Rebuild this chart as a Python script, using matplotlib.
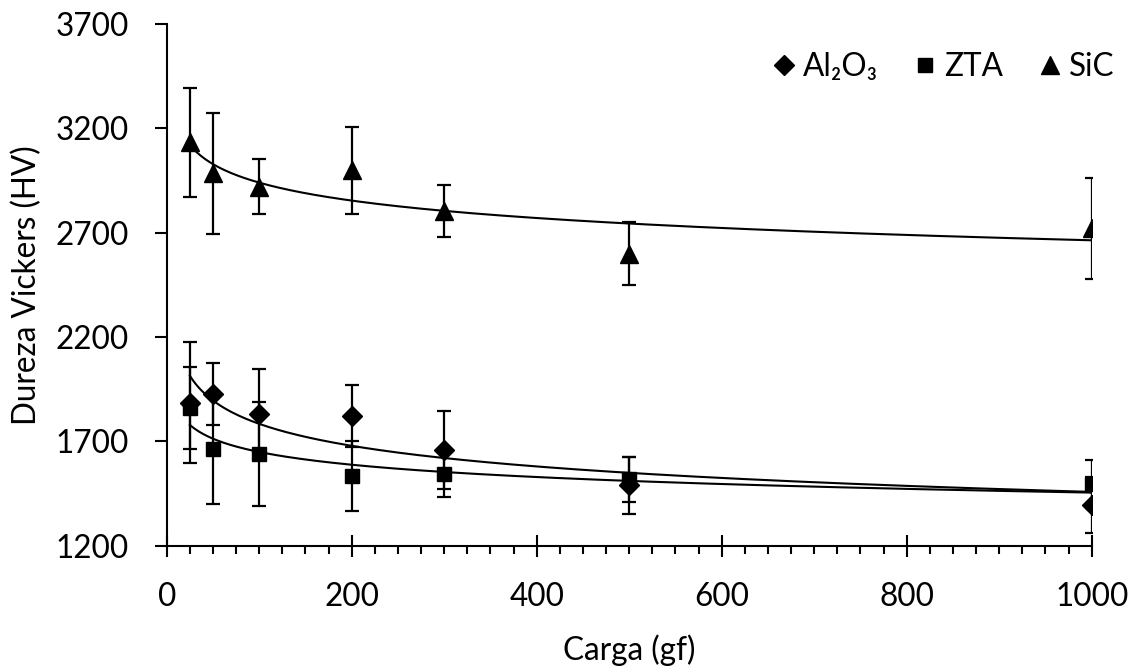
import matplotlib.pyplot as plt
import numpy as np
from matplotlib.ticker import MultipleLocator

plt.rcParams['font.family'] = ['Lato', 'DejaVu Sans']

# Dados
carga = [25, 50, 100, 200, 300, 500, 1000]

al2o3 = [1885, 1927, 1831, 1823, 1658, 1490, 1395]
al2o3_err = [290, 150, 215, 149, 189, 137, 135]

zta = [1858, 1663, 1639, 1534, 1543, 1517, 1495]
zta_err = [196, 265, 248, 168, 112, 110, 115]

sic = [3133, 2985, 2921, 2999, 2803, 2600, 2720]
sic_err = [261, 290, 134, 209, 126, 150, 242]

y_ticks = [1200, 1700, 2200, 2700, 3200, 3700]

series = [
    ("Al\u2082O\u2083", al2o3, al2o3_err, "D", 10),
    ("ZTA", zta, zta_err, "s", 10),
    ("SiC", sic, sic_err, "^", 12.5),
]

fs = 22.7

fig = plt.figure(figsize=(11.32, 6.68), dpi=100)
ax = fig.add_axes([0.1473, 0.1832, 0.8171, 0.7809])

x = np.array(carga, dtype=float)
xx = np.linspace(x.min(), x.max(), 400)

for nome, y, err, marc, ms in series:
    # linha de tendência potência (ajuste log-log)
    b, a = np.polyfit(np.log(x), np.log(y), 1)
    ax.plot(xx, np.exp(a) * xx ** b, color="black", lw=1.5, zorder=2)
    ax.errorbar(x, y, yerr=err, fmt=marc, color="black", ms=ms,
                elinewidth=1.6, capsize=5, capthick=1.6, label=nome, zorder=3)

ax.set_xlim(0, 1000)
ax.set_ylim(1200, 3700)
ax.xaxis.set_major_locator(MultipleLocator(200))
ax.xaxis.set_minor_locator(MultipleLocator(25))
ax.set_yticks(y_ticks)

for lado in ["top", "right"]:
    ax.spines[lado].set_visible(False)
for lado in ["left", "bottom"]:
    ax.spines[lado].set_linewidth(1.5)

ax.tick_params(axis="x", which="major", direction="inout", length=16, width=1.5,
               labelsize=fs, pad=18)
ax.tick_params(axis="x", which="minor", direction="out", length=5.8, width=1.5)
ax.tick_params(axis="y", which="major", direction="out", length=8.6, width=1.5,
               labelsize=fs, pad=18.5)

ax.set_xlabel("Carga (gf)", fontsize=fs, labelpad=16)
ax.set_ylabel("Dureza Vickers (HV)", fontsize=fs, labelpad=10)

handles, labels = ax.get_legend_handles_labels()
handles = [h[0] for h in handles]
ax.legend(handles, labels, loc="center right", bbox_to_anchor=(1.025, 0.9176),
          ncol=3, frameon=False, fontsize=fs, handlelength=0.6,
          handletextpad=0.3, columnspacing=1.2, borderpad=0, borderaxespad=0)

plt.savefig("out.png", dpi=100)
